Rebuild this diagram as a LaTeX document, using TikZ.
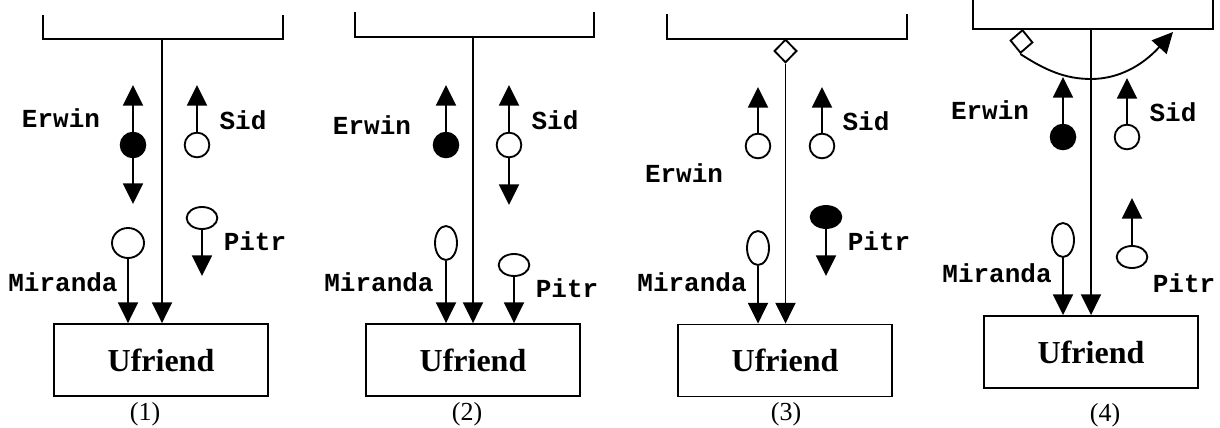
\documentclass[tikz,border=0pt]{standalone}
\usepackage{fontspec}
\setmainfont{Liberation Serif}
\newfontfamily\labfam{Liberation Mono}
\usetikzlibrary{arrows.meta,shapes.geometric}
\tikzset{
  ln/.style={line width=1.4pt},
  arr/.style={ln,-{Triangle[width=15pt,length=15.5pt]}},
  tokw/.style={ellipse,draw,ln,fill=white,inner sep=0pt},
  tokb/.style={ellipse,draw,ln,fill=black,inner sep=0pt},
  circ/.style={minimum width=18.5pt,minimum height=18.5pt},
  ovv/.style={minimum width=16.5pt,minimum height=25.5pt},
  ovh/.style={minimum width=23pt,minimum height=16.5pt},
  lab/.style={font=\labfam\bfseries\fontsize{19.5}{20}\selectfont,inner sep=0pt},
  ubox/.style={draw,ln,rectangle,minimum width=160.5pt,minimum height=54pt,inner sep=0pt,
    font=\bfseries\fontsize{24}{25}\selectfont},
  pcap/.style={font=\fontsize{19.5}{20}\selectfont,inner sep=0pt},
  dia/.style={diamond,draw,ln,fill=white,inner sep=0pt,minimum width=17pt,minimum height=17.5pt}
}
\begin{document}
\begin{tikzpicture}[x=0.75pt,y=-0.75pt]
\useasboundingbox (0,0) rectangle (1220,428);
% ---------- panel 1 ----------
\draw[ln] (43,15) |- (283,39) -- (283,15);
\coordinate (c1) at (162,39);
\node[ubox] (U1) at (161,360) {Ufriend};
\node[pcap] (n1) at (145,414) {(1)};
\draw[arr] (c1) -- (c1 |- U1.north);
\node[tokb,circ] (e1) at (133,145) {};
\coordinate (e1u) at (133,85);
\coordinate (e1d) at (133,204);
\draw[arr] (e1.north) -- (e1u);
\draw[arr] (e1.south) -- (e1d);
\node[lab] (le1) at (61,118) {Erwin};
\node[tokw,circ] (s1) at (197,145) {};
\coordinate (s1u) at (197,85);
\draw[arr] (s1.north) -- (s1u);
\node[lab] (ls1) at (243,120) {Sid};
\node[tokw,ovh] (p1) at (202,218) {};
\coordinate (p1d) at (202,276);
\draw[arr] (p1.south) -- (p1d);
\node[lab] (lp1) at (255,241) {Pitr};
\node[tokw,minimum width=24pt,minimum height=22.5pt] (m1) at (128,243) {};
\draw[arr] (m1.south) -- (m1.south |- U1.north);
\node[lab] (lm1) at (63,282) {Miranda};
% ---------- panel 2 ----------
\draw[ln] (355,12) |- (594,37) -- (594,12);
\coordinate (c2) at (473,37);
\node[ubox] (U2) at (473,360) {Ufriend};
\node[pcap] (n2) at (467,414) {(2)};
\draw[arr] (c2) -- (c2 |- U2.north);
\node[tokb,circ] (e2) at (446,145) {};
\coordinate (e2u) at (446,85);
\draw[arr] (e2.north) -- (e2u);
\node[lab] (le2) at (372,125) {Erwin};
\node[tokw,circ] (s2) at (509,145) {};
\coordinate (s2u) at (509,85);
\coordinate (s2d) at (509,205);
\draw[arr] (s2.north) -- (s2u);
\draw[arr] (s2.south) -- (s2d);
\node[lab] (ls2) at (555,120) {Sid};
\node[tokw,ovv] (m2) at (446,243) {};
\draw[arr] (m2.south) -- (m2.south |- U2.north);
\node[lab] (lm2) at (379,282) {Miranda};
\node[tokw,ovh] (p2) at (514,265) {};
\draw[arr] (p2.south) -- (p2.south |- U2.north);
\node[lab] (lp2) at (567,288) {Pitr};
% ---------- panel 3 ----------
\draw[ln] (667,14) |- (907,39) -- (907,14);
\node[dia] (d3) at (785.5,51) {};
\node[ubox] (U3) at (785,360.5) {Ufriend};
\node[pcap] (n3) at (786,414) {(3)};
\draw[arr] (d3.south) -- (d3.south |- U3.north);
\node[tokw,circ] (e3) at (758,146) {};
\coordinate (e3u) at (758,87);
\draw[arr] (e3.north) -- (e3u);
\node[lab] (le3) at (684,173) {Erwin};
\node[tokw,circ] (s3) at (822,146) {};
\coordinate (s3u) at (822,87);
\draw[arr] (s3.north) -- (s3u);
\node[lab] (ls3) at (866,121) {Sid};
\node[tokb,ovh] (p3) at (826,217) {};
\coordinate (p3d) at (826,276);
\draw[arr] (p3.south) -- (p3d);
\node[lab] (lp3) at (879,241) {Pitr};
\node[tokw,ovv] (m3) at (758,248) {};
\draw[arr] (m3.south) -- (m3.south |- U3.north);
\node[lab] (lm3) at (692,282) {Miranda};
% ---------- panel 4 ----------
\draw[ln] (973,0) |- (1213,29) -- (1213,0);
\coordinate (c4) at (1091,29);
\node[ubox] (U4) at (1091,352) {Ufriend};
\node[pcap] (n4) at (1105,415) {(4)};
\draw[arr] (c4) -- (c4 |- U4.north);
\node[dia,rotate=-5] (d4) at (1021.5,41.5) {};
\coordinate (t4) at (1173,32);
\draw[arr] (d4.south) .. controls (1045,70) and (1065,79) .. (1091,79)
   .. controls (1118,79) and (1142,66) .. (t4);
\node[tokb,circ] (e4) at (1063,137) {};
\coordinate (e4u) at (1063,77);
\draw[arr] (e4.north) -- (e4u);
\node[lab] (le4) at (990,110) {Erwin};
\node[tokw,circ] (s4) at (1127,137) {};
\coordinate (s4u) at (1127,78);
\draw[arr] (s4.north) -- (s4u);
\node[lab] (ls4) at (1173,112) {Sid};
\node[tokw,ovh] (p4) at (1132,257) {};
\coordinate (p4u) at (1132,198);
\draw[arr] (p4.north) -- (p4u);
\node[lab] (lp4) at (1184,283) {Pitr};
\node[tokw,ovv] (m4) at (1063,240) {};
\draw[arr] (m4.south) -- (m4.south |- U4.north);
\node[lab] (lm4) at (997,273) {Miranda};
\end{tikzpicture}
\end{document}
